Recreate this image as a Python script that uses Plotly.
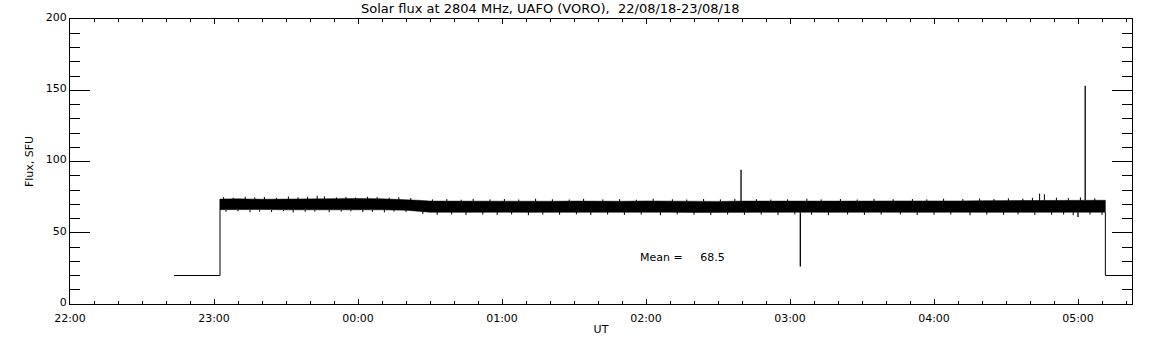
import pandas as pd
import plotly.graph_objects as go

BASE = pd.Timestamp("2018-08-22 22:00:00")

def t(m):
    return BASE + pd.Timedelta(minutes=m)

# ---- data (minutes after 22:00 UT, flux in SFU) ----
band_minutes = [62.5, 70, 80, 90, 100, 110, 120, 130, 140, 145, 150, 160, 170, 180, 190, 200, 210,
                220, 230, 240, 250, 260, 270, 280, 290, 300, 310, 320, 330, 340, 350, 360, 370,
                380, 390, 400, 410, 420, 431.4]
band_upper = [73.6, 73.8, 73.5, 73.7, 73.9, 73.6, 74.0, 73.8, 73.4, 72.8, 72.2, 72.1, 72.0, 72.2,
              72.0, 72.1, 72.2, 72.0, 72.1, 72.3, 72.1, 72.2, 72.0, 72.2, 72.1, 72.3, 72.2, 72.1,
              72.2, 72.3, 72.2, 72.4, 72.3, 72.5, 72.6, 72.8, 73.0, 72.9, 72.8]
band_lower = [66.2, 66.0, 66.3, 66.1, 65.9, 66.2, 66.0, 66.1, 65.8, 65.0, 64.4, 64.3, 64.2, 64.4,
              64.3, 64.2, 64.4, 64.3, 64.2, 64.3, 64.4, 64.2, 64.3, 64.4, 64.2, 64.3, 64.4, 64.3,
              64.2, 64.4, 64.3, 64.2, 64.4, 64.3, 64.3, 64.4, 64.2, 64.3, 64.4]

# short excursions above / below the solid band
up_whisk_minutes = [64, 68, 73, 77, 81, 86, 91, 95, 99, 103, 106, 111, 115, 119, 124, 128, 133, 137,
                    142, 151, 157, 163, 168, 175, 181, 187, 194, 201, 208, 214, 222, 229, 236, 243,
                    251, 257, 264, 271, 277, 286, 292, 299, 307, 313, 321, 328, 335, 343, 351, 357,
                    364, 372, 379, 385, 391, 397, 401, 404, 406, 411, 416, 421, 427]
up_whisk_values = [75.0, 74.6, 75.3, 74.8, 75.1, 74.5, 75.4, 74.9, 75.2, 76.0, 75.6, 74.8, 75.1, 74.7,
                   75.3, 75.0, 74.6, 74.9, 74.4, 73.4, 73.6, 73.2, 73.8, 73.4, 73.7, 73.3, 73.9, 73.5,
                   73.3, 73.8, 73.4, 73.6, 73.2, 73.9, 73.5, 73.3, 73.7, 73.4, 73.8, 73.6, 73.3, 73.5,
                   73.9, 73.4, 73.7, 73.3, 73.8, 73.5, 73.6, 73.4, 73.9, 73.6, 74.0, 73.7, 74.2, 74.0,
                   74.5, 77.5, 77.0, 74.6, 74.3, 74.8, 74.2]
low_whisk_minutes = [65, 70, 75, 79, 84, 89, 93, 98, 102, 108, 113, 117, 122, 126, 131, 135, 140,
                     147, 153, 159, 165, 172, 178, 184, 191, 197, 204, 211, 217, 224, 231, 238, 246,
                     253, 260, 267, 274, 281, 288, 295, 302, 309, 316, 324, 331, 338, 346, 353, 360,
                     367, 375, 382, 389, 395, 402, 409, 414, 418, 425, 430]
low_whisk_values = [64.6, 65.0, 64.3, 64.8, 64.5, 65.1, 64.2, 64.7, 64.9, 64.4, 64.8, 65.0, 64.5,
                    64.7, 64.3, 64.9, 64.6, 63.2, 62.6, 62.9, 62.4, 62.8, 62.5, 62.9, 62.3, 62.7,
                    62.6, 62.9, 62.4, 62.8, 62.5, 62.7, 62.3, 62.9, 62.6, 62.4, 62.8, 62.5, 62.7,
                    62.4, 62.9, 62.6, 62.3, 62.8, 62.5, 62.7, 62.9, 62.4, 62.6, 62.8, 62.3, 62.7,
                    62.5, 62.9, 62.4, 62.6, 62.8, 62.3, 62.7, 62.5]

# off-band segments (calibration level)
start_minutes = [43.3, 62.5, 62.5]
start_values = [20, 20, 73.6]
end_minutes = [431.4, 431.4, 442.5]
end_values = [64.4, 20, 20]

# isolated spikes: time, base level, extreme value
spike_minutes = [279.6, 304.3, 423.0, 420.0]
spike_base = [72.0, 64.3, 72.9, 64.3]
spike_peak = [94.2, 26.4, 153.2, 61.0]

mean_value = 68.5
mean_label_minutes = 236.5
mean_label_level = 32.3
x_range_minutes = [0, 442.5]
y_ticks = [0, 50, 100, 150, 200]

fig = go.Figure()

bx = [t(m) for m in band_minutes] + [t(m) for m in reversed(band_minutes)]
by = band_upper + list(reversed(band_lower))
fig.add_trace(go.Scatter(x=bx, y=by, fill="toself", fillcolor="black", mode="lines",
                         line=dict(color="black", width=0.5), hoverinfo="skip"))

wx, wy = [], []
for m, v in zip(up_whisk_minutes, up_whisk_values):
    wx += [t(m), t(m), None]
    wy += [72.0, v, None]
for m, v in zip(low_whisk_minutes, low_whisk_values):
    wx += [t(m), t(m), None]
    wy += [66.0, v, None]
fig.add_trace(go.Scatter(x=wx, y=wy, mode="lines", line=dict(color="black", width=1),
                         hoverinfo="skip"))

fig.add_trace(go.Scatter(x=[t(m) for m in start_minutes], y=start_values, mode="lines",
                         line=dict(color="black", width=1)))
fig.add_trace(go.Scatter(x=[t(m) for m in end_minutes], y=end_values, mode="lines",
                         line=dict(color="black", width=1)))

sx, sy = [], []
for m, b, p in zip(spike_minutes, spike_base, spike_peak):
    sx += [t(m), t(m), None]
    sy += [b, p, None]
fig.add_trace(go.Scatter(x=sx, y=sy, mode="lines", line=dict(color="black", width=1.3)))

fig.add_annotation(x=t(mean_label_minutes), y=mean_label_level, xref="x", yref="y",
                   xanchor="left", yanchor="middle",
                   text="Mean =" + "\u00a0" * 5 + f"{mean_value}", showarrow=False,
                   font=dict(size=11, color="black", family="DejaVu Sans"))

font = dict(family="DejaVu Sans", size=11, color="black")

fig.update_layout(
    width=1152, height=345,
    margin=dict(l=70, r=20, t=19, b=41),
    paper_bgcolor="white", plot_bgcolor="white",
    showlegend=False,
    font=font,
    title=dict(text="Solar flux at 2804 MHz, UAFO (VORO),\u00a0\u00a022/08/18-23/08/18",
               x=361 / 1152, xanchor="left", y=1 - 8 / 345, yanchor="middle",
               font=dict(family="DejaVu Sans", size=13, color="black")),
    xaxis=dict(type="date", range=[t(x_range_minutes[0]), t(x_range_minutes[1])],
               dtick=3600000, tick0=t(0), tickformat="%H:%M",
               ticks="inside", ticklen=5, tickcolor="black", tickwidth=1,
               minor=dict(dtick=600000, ticks="inside", ticklen=3, tickcolor="black"),
               showline=True, linecolor="black", linewidth=1, mirror="allticks",
               showgrid=False, zeroline=False, automargin=False,
               ticklabelstandoff=4,
               title=dict(text="UT", standoff=1, font=font), tickfont=font),
    yaxis=dict(range=[0, 200], tickvals=y_ticks,
               ticks="inside", ticklen=20, tickcolor="black", tickwidth=1,
               minor=dict(dtick=10, ticks="inside", ticklen=10, tickcolor="black"),
               showline=True, linecolor="black", linewidth=1, mirror="allticks",
               showgrid=False, zeroline=False, automargin=False,
               ticklabelshift=-2,
               title=dict(text="Flux, SFU", standoff=9, font=font), tickfont=font),
)

fig.write_html("out.html", config={"displayModeBar": False},
               post_script="document.body.style.margin='0px';")
